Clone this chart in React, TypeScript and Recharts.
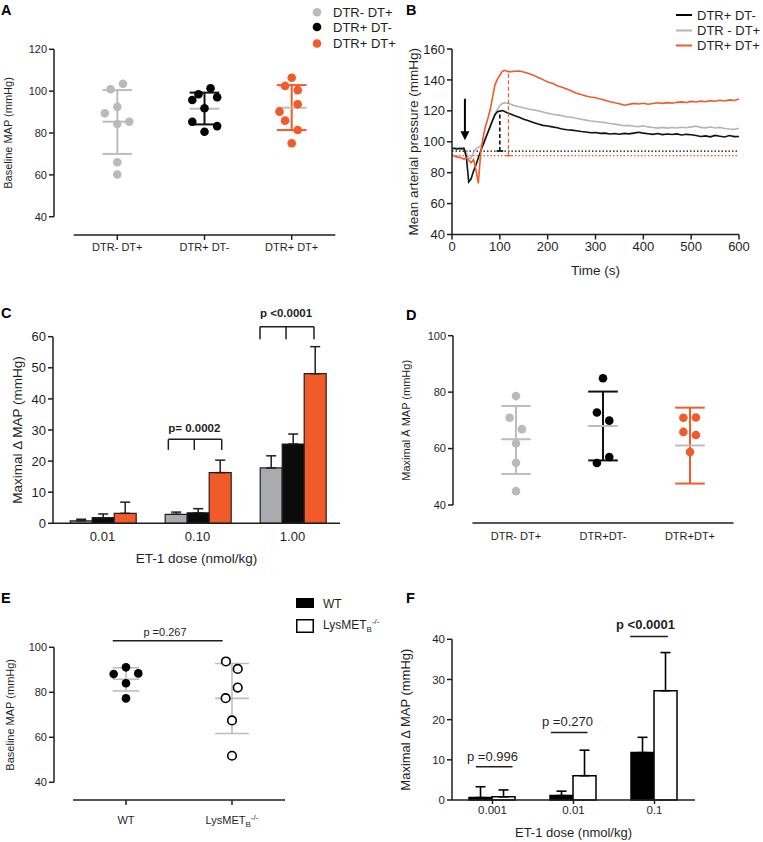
import React from "react";
import {
  ScatterChart,
  Scatter,
  LineChart,
  Line,
  BarChart,
  Bar,
  ErrorBar,
  XAxis,
  YAxis,
  ReferenceLine,
  ReferenceDot,
} from "recharts";

const FONT = "'Liberation Sans', Arial, Helvetica, sans-serif";
const INK = "#1f1f1f";
const ORANGE = "#f15a29";
const GREY_DOT = "#b8babc";
const GREY_LINE = "#bdbdbd";
const GREY_BAR = "#a9abae";
const OUTLINE = "#231f20";

// ---------- A: baseline MAP, DT model
const aGroups = ["DTR- DT+", "DTR+ DT-", "DTR+ DT+"];
const aTicks = [40, 60, 80, 100, 120];
const aGrey = [103.5, 100.9, 92.5, 89.4, 85.4, 84.3, 66, 60.2];
const aGreyJit = [0.065, -0.077, 0, -0.143, 0.137, 0, 0, 0];
const aGreyStats = [85.4, 70, 100.5]; // mean, lower SD, upper SD
const aBlack = [101.4, 98.5, 95.8, 97.1, 91.8, 85.4, 83.3, 80.6];
const aBlackJit = [0.069, -0.069, -0.14, 0.145, 0, -0.14, 0.145, 0];
const aBlackStats = [91.6, 84.1, 99.3];
const aOrange = [106.4, 102.5, 100.5, 93.7, 90.2, 85.9, 81.4, 75.1];
const aOrangeJit = [0, -0.076, 0.069, 0.069, -0.14, -0.076, 0.069, 0];
const aOrangeStats = [92.1, 81.4, 102.9];

// ---------- B: MAP trace after ET-1
const bYTicks = [40, 60, 80, 100, 120, 140, 160];
const bXTicks = [0, 100, 200, 300, 400, 500, 600];
const bTime = [
  0, 5, 10, 15, 20, 25, 30, 35, 40, 45, 50, 55, 60, 65, 70, 75, 80, 85, 90, 95, 100, 105, 110, 115, 120,
  130, 140, 150, 160, 170, 180, 190, 200, 210, 220, 230, 240, 250, 260, 270, 280, 290, 300,
  310, 320, 330, 340, 350, 360, 370, 380, 390, 400, 410, 420, 430, 440, 450, 460, 470, 480,
  490, 500, 510, 520, 530, 540, 550, 560, 570, 580, 590, 600,
];
const bBlack = [
  95.5, 95.8, 95.2, 95.6, 95.4, 95.7, 90, 74, 76, 81, 85, 89.5, 94, 98, 102, 106, 110, 114, 117.5, 119.5, 119.8, 120.2, 119.6, 118.8, 118.2,
  117, 115.8, 114.5, 113.6, 112.4, 111.5, 110.6, 110.2, 109.6, 109.1, 108.2, 107.8, 107.5, 107.1, 106.6, 106.3, 105.8, 106,
  105.4, 105.6, 105.0, 105.3, 104.9, 105.4, 105.1, 105.6, 106.1, 105.6, 105.2, 104.8, 105.3, 104.6, 105.0, 104.7, 105.1, 104.4,
  104.8, 104.5, 104.0, 103.4, 103.8, 103.2, 104.1, 103.6, 103.1, 104.0, 103.3, 103.4,
];
const bGrey = [
  96, 95.8, 96.2, 95.9, 96.3, 96, 93, 89, 89.5, 93, 95.5, 96.5, 97, 99, 103, 106, 110, 114, 118, 121, 123.5, 124.8, 125.2, 124.9, 124.6,
  123.5, 122.6, 122, 121.2, 120.6, 120, 119.3, 118.5, 117.8, 117.4, 116.8, 116.1, 115.8, 115.2, 114.6, 114, 113.4, 113.1,
  112.8, 112.4, 111.8, 111.4, 110.9, 110.4, 110.6, 110, 109.8, 110.3, 109.6, 109.2, 108.8, 109.3, 108.8, 109.2, 108.9, 109.4,
  109.1, 109.6, 110.1, 109.3, 109.0, 109.5, 108.9, 109.3, 108.6, 108.2, 108.0, 108.7,
];
const bOrange = [
  91.5, 90.8, 90.2, 89.9, 89.5, 88.8, 89.5, 88, 86.5, 88.5, 82, 73, 93, 103, 110, 115, 121, 129, 137, 140.5, 143, 145.5, 146.2, 145.6, 145.2,
  145.6, 145.8, 145.1, 144.2, 143.1, 141.6, 140.2, 138.6, 137.8, 136.2, 135.3, 134.1, 132.8, 131.4, 130.5, 129.6, 129.0, 128.5,
  127.6, 126.8, 125.9, 125.2, 124.6, 123.6, 124.2, 124.8, 124.4, 124.9, 124.3, 124.7, 125.2, 124.8, 125.3, 124.9, 125.5, 125.8,
  125.4, 126.1, 125.7, 126.3, 125.9, 126.6, 126.2, 126.8, 126.4, 127.1, 126.7, 127.6,
];
const bData = bTime.map((t, i) => ({ t, black: bBlack[i], grey: bGrey[i], orange: bOrange[i] }));

// ---------- C: dose response, DT model
const cDoses = ["0.01", "0.10", "1.00"];
const cTicks = [0, 10, 20, 30, 40, 50, 60];
const cGrey = [0.8, 2.9, 17.8];
const cGreyErr = [0.5, 0.7, 3.9];
const cBlack = [1.8, 3.4, 25.5];
const cBlackErr = [1.2, 1.3, 3.2];
const cOrange = [3.2, 16.3, 48.1];
const cOrangeErr = [3.6, 4.0, 8.7];
// each dose sits in the middle of its own unit slot on a numeric axis
const cData = cDoses.map((dose, i) => ({
  pos: i + 0.5,
  dose,
  grey: cGrey[i],
  greyErr: [0, cGreyErr[i]],
  black: cBlack[i],
  blackErr: [0, cBlackErr[i]],
  orange: cOrange[i],
  orangeErr: [0, cOrangeErr[i]],
}));

// ---------- D: maximal change
const dGroups = ["DTR- DT+", "DTR+DT-", "DTR+DT+"];
const dTicks = [40, 60, 80, 100];
const dGrey = [78.6, 70.9, 66.9, 61.8, 55, 44.9];
const dGreyJit = [0, -0.073, 0.068, 0, 0, 0];
const dGreyStats = [63.3, 51, 75.1];
const dBlack = [84.9, 72.8, 69.9, 57, 54.9];
const dBlackJit = [0, -0.07, 0.072, 0.072, -0.07];
const dBlackStats = [68, 55.8, 80.2];
const dOrange = [70.9, 71, 65.9, 64.8, 58.8];
const dOrangeJit = [-0.076, 0.068, -0.076, 0.068, 0];
const dOrangeStats = [61.1, 47.6, 74.5];

// ---------- E: baseline MAP, LysMET
const eTicks = [40, 60, 80, 100];
const eWt = [91.1, 88.1, 88.4, 84, 77.3];
const eWtJit = [0, -0.116, 0.116, 0, 0];
const eWtStats = [85.8, 80.6, 90.9];
const eLys = [93.7, 90.4, 82.1, 77.4, 67.5, 51.8];
const eLysJit = [-0.057, 0.054, 0.054, -0.06, 0, 0];
const eLysStats = [77.3, 61.7, 92.8];

// ---------- F: dose response, LysMET
const fDoses = ["0.001", "0.01", "0.1"];
const fTicks = [0, 10, 20, 30, 40];
const fWt = [0.6, 1.1, 11.8];
const fWtErr = [2.7, 1.1, 3.8];
const fLys = [0.8, 6.05, 27.2];
const fLysErr = [1.7, 6.35, 9.5];
const fData = fDoses.map((dose, i) => ({
  pos: i + 0.5,
  dose,
  wt: fWt[i],
  wtErr: [0, fWtErr[i]],
  lys: fLys[i],
  lysErr: [0, fLysErr[i]],
}));

const slotTicks = [0.5, 1.5, 2.5];

// straight annotation segment in data units
function seg(key: string, x1: number, y1: number, x2: number, y2: number, stroke: string, w: number, extra: any = {}) {
  return (
    <ReferenceLine
      key={key}
      segment={[{ x: x1, y: y1 }, { x: x2, y: y2 }]}
      stroke={stroke}
      strokeWidth={w}
      ifOverflow="visible"
      {...extra}
    />
  );
}

function note(key: string, x: number, y: number, text: string, size: number, bold: boolean) {
  return (
    <ReferenceDot
      key={key}
      x={x}
      y={y}
      r={0}
      ifOverflow="visible"
      shape={(p: any) => (
        <text
          x={p.cx}
          y={p.cy}
          textAnchor="middle"
          dominantBaseline="central"
          fontSize={size}
          fontWeight={bold ? 700 : 400}
          fill={INK}
        >
          {text}
        </text>
      )}
    />
  );
}

const dotShape = (fill: string, stroke?: string) => (p: any) =>
  <circle cx={p.cx} cy={p.cy} r={4.3} fill={fill} stroke={stroke || "none"} strokeWidth={1.6} />;

interface DotGroup {
  vals: number[];
  jit: number[];
  stats: number[];
  fill: string;
  stroke?: string;
  bar: string;
  half: number;
}

interface DotPanelProps {
  left: number;
  top: number;
  width: number;
  height: number;
  margin: { top: number; right: number; bottom: number; left: number };
  yAxisWidth: number;
  yDomain: number[];
  yTicks: number[];
  xDomain: number[];
  groups: DotGroup[];
  axisBase: number;
  axisSpan: number[];
  tickDrop?: number;
  labels: React.ReactNode[];
  labelY: number;
  yLabel: string;
  barWidth: number;
  extra?: React.ReactNode[];
}

function DotPanel(props: DotPanelProps) {
  const { left, top, width, height, margin, groups, labels, labelY } = props;
  const refs: React.ReactNode[] = [];
  groups.forEach((g, gi) => {
    const [mean, lo, hi] = g.stats;
    refs.push(seg(`v${gi}`, gi, lo, gi, hi, g.bar, props.barWidth));
    refs.push(seg(`l${gi}`, gi - g.half, lo, gi + g.half, lo, g.bar, props.barWidth));
    refs.push(seg(`h${gi}`, gi - g.half, hi, gi + g.half, hi, g.bar, props.barWidth));
    refs.push(seg(`m${gi}`, gi - g.half, mean, gi + g.half, mean, GREY_LINE, props.barWidth));
    if (props.tickDrop !== undefined) {
      refs.push(seg(`t${gi}`, gi, props.axisBase, gi, props.tickDrop, INK, 1.5));
    }
  });
  refs.push(seg("xaxis", props.axisSpan[0], props.axisBase, props.axisSpan[1], props.axisBase, INK, 1.5));

  return (
    <div style={{ position: "absolute", left, top, width, height }}>
      <ScatterChart width={width} height={height} margin={margin}>
        <XAxis
          type="number"
          dataKey="x"
          domain={props.xDomain}
          ticks={groups.map((_, i) => i)}
          allowDataOverflow
          axisLine={false}
          tickLine={false}
          height={40}
          interval={0}
          tick={(p: any) => (
            <text x={p.x} y={labelY} textAnchor="middle" fontSize={11} fill={INK}>
              {labels[p.payload.value]}
            </text>
          )}
        />
        <YAxis
          type="number"
          dataKey="y"
          domain={props.yDomain}
          ticks={props.yTicks}
          allowDataOverflow
          width={props.yAxisWidth}
          tickSize={5}
          axisLine={{ stroke: INK, strokeWidth: 1.5 }}
          tickLine={{ stroke: INK, strokeWidth: 1.5 }}
          tick={{ fontSize: 11, fill: INK }}
          label={{ value: props.yLabel, angle: -90, position: "center", fontSize: 11, fill: INK }}
        />
        {refs}
        {props.extra}
        {groups.map((g, gi) => (
          <Scatter
            key={gi}
            data={g.vals.map((v, k) => ({ x: gi + g.jit[k], y: v }))}
            shape={dotShape(g.fill, g.stroke)}
            isAnimationActive={false}
          />
        ))}
      </ScatterChart>
    </div>
  );
}

function PanelB() {
  return (
    <div style={{ position: "absolute", left: 380, top: 0, width: 383, height: 280 }}>
      <LineChart width={383} height={280} data={bData} margin={{ top: 49, right: 24, bottom: -25.5, left: -6 }}>
        <XAxis
          dataKey="t"
          type="number"
          domain={[0, 600]}
          ticks={bXTicks}
          height={71}
          tickSize={5}
          axisLine={{ stroke: INK, strokeWidth: 1.5 }}
          tickLine={{ stroke: INK, strokeWidth: 1.5 }}
          tick={{ fontSize: 13, fill: INK }}
          label={{ value: "Time (s)", position: "center", fontSize: 13.5, fill: INK }}
        />
        <YAxis
          type="number"
          domain={[40, 160]}
          ticks={bYTicks}
          width={78}
          tickSize={5}
          axisLine={{ stroke: INK, strokeWidth: 1.5 }}
          tickLine={{ stroke: INK, strokeWidth: 1.5 }}
          tick={{ fontSize: 13, fill: INK }}
          label={{ value: "Mean arterial pressure (mmHg)", angle: -90, position: "center", fontSize: 13.5, fill: INK }}
        />
        {seg("dotK", 0, 94, 600, 94, "#000", 1.2, { strokeDasharray: "1.5 2" })}
        {seg("dotO", 0, 91, 600, 91, ORANGE, 1.2, { strokeDasharray: "1.5 2" })}
        <Line dataKey="grey" stroke="#b5b5b5" strokeWidth={1.6} dot={false} isAnimationActive={false} />
        <Line dataKey="black" stroke="#111" strokeWidth={1.6} dot={false} isAnimationActive={false} />
        <Line dataKey="orange" stroke={ORANGE} strokeWidth={1.6} dot={false} isAnimationActive={false} />
        {seg("vK", 100, 94, 100, 120, "#111", 1.6, { strokeDasharray: "4 2.5" })}
        {seg("cK", 93, 94, 107, 94, "#111", 1.6)}
        {seg("vO", 118, 91, 118, 146, ORANGE, 1.2, { strokeDasharray: "4 2.5" })}
        {seg("cO", 111, 91, 125, 91, ORANGE, 1.2)}
        {seg("arrow", 27, 127.8, 27, 106, "#000", 2)}
        <ReferenceDot
          x={27}
          y={101}
          r={0}
          ifOverflow="visible"
          shape={(p: any) => (
            <polygon
              points={`${p.cx - 4.5},${p.cy - 9} ${p.cx + 4.5},${p.cy - 9} ${p.cx},${p.cy}`}
              fill="#000"
            />
          )}
        />
      </LineChart>
    </div>
  );
}

function PanelC() {
  return (
    <div style={{ position: "absolute", left: 0, top: 280, width: 380, height: 290 }}>
      <BarChart
        width={380}
        height={290}
        data={cData}
        margin={{ top: 56.7, right: 40, bottom: -23.3, left: -19 }}
        barCategoryGap="16%"
        barGap={0}
      >
        <XAxis
          dataKey="pos"
          type="number"
          domain={[0, 3]}
          allowDataOverflow
          ticks={slotTicks}
          interval={0}
          tickFormatter={(v: number) => cDoses[Math.floor(v)]}
          padding={{ left: 2, right: 0 }}
          height={70}
          tickLine={false}
          axisLine={{ stroke: INK, strokeWidth: 1.5 }}
          tick={{ fontSize: 13, fill: INK }}
          label={{ value: "ET-1 dose (nmol/kg)", position: "center", fontSize: 13.5, fill: INK }}
        />
        <YAxis
          domain={[0, 60]}
          ticks={cTicks}
          width={72}
          tickSize={5}
          axisLine={{ stroke: INK, strokeWidth: 1.5 }}
          tickLine={{ stroke: INK, strokeWidth: 1.5 }}
          tick={{ fontSize: 13, fill: INK }}
          label={{ value: "Maximal \u0394 MAP (mmHg)", angle: -90, position: "center", fontSize: 13.5, fill: INK }}
        />
        <Bar dataKey="grey" fill={GREY_BAR} stroke={OUTLINE} strokeWidth={1.2} isAnimationActive={false}>
          <ErrorBar dataKey="greyErr" direction="y" width={5} stroke={INK} strokeWidth={1.5} />
        </Bar>
        <Bar dataKey="black" fill="#0b0b0b" stroke={OUTLINE} strokeWidth={1.2} isAnimationActive={false}>
          <ErrorBar dataKey="blackErr" direction="y" width={5} stroke={INK} strokeWidth={1.5} />
        </Bar>
        <Bar dataKey="orange" fill={ORANGE} stroke={OUTLINE} strokeWidth={1.2} isAnimationActive={false}>
          <ErrorBar dataKey="orangeErr" direction="y" width={5} stroke={INK} strokeWidth={1.5} />
        </Bar>
        {seg("b1t", 1.193, 27, 1.755, 27, INK, 1.5)}
        {seg("b1l", 1.193, 27, 1.193, 23.6, INK, 1.5)}
        {seg("b1m", 1.466, 27, 1.466, 23.6, INK, 1.5)}
        {seg("b1r", 1.755, 27, 1.755, 23.6, INK, 1.5)}
        {seg("b2t", 2.158, 63.2, 2.726, 63.2, INK, 1.5)}
        {seg("b2l", 2.158, 63.2, 2.158, 59.2, INK, 1.5)}
        {seg("b2m", 2.432, 63.2, 2.432, 59.2, INK, 1.5)}
        {seg("b2r", 2.726, 63.2, 2.726, 59.2, INK, 1.5)}
        {note("p1", 1.466, 30.6, "p= 0.0002", 11.5, true)}
        {note("p2", 2.432, 67.6, "p <0.0001", 11.5, true)}
      </BarChart>
    </div>
  );
}

function PanelF() {
  return (
    <div style={{ position: "absolute", left: 380, top: 570, width: 383, height: 272 }}>
      <BarChart
        width={383}
        height={272}
        data={fData}
        margin={{ top: 69.3, right: 68, bottom: -22, left: -22 }}
        barCategoryGap="21%"
        barGap={0}
      >
        <XAxis
          dataKey="pos"
          type="number"
          domain={[0, 3]}
          allowDataOverflow
          ticks={slotTicks}
          interval={0}
          tickFormatter={(v: number) => fDoses[Math.floor(v)]}
          height={64}
          tickSize={4}
          axisLine={{ stroke: INK, strokeWidth: 1.5 }}
          tickLine={{ stroke: INK, strokeWidth: 1.5 }}
          tick={{ fontSize: 11.5, fill: INK }}
          label={{ value: "ET-1 dose (nmol/kg)", position: "center", fontSize: 13, fill: INK }}
        />
        <YAxis
          domain={[0, 40]}
          ticks={fTicks}
          width={94}
          tickSize={5}
          axisLine={{ stroke: INK, strokeWidth: 1.5 }}
          tickLine={{ stroke: INK, strokeWidth: 1.5 }}
          tick={{ fontSize: 11.5, fill: INK }}
          label={{ value: "Maximal \u0394 MAP (mmHg)", angle: -90, position: "center", fontSize: 13, fill: INK }}
        />
        <Bar dataKey="wt" fill="#000" stroke="#000" strokeWidth={1.5} isAnimationActive={false}>
          <ErrorBar dataKey="wtErr" direction="y" width={5} stroke="#000" strokeWidth={1.6} />
        </Bar>
        <Bar dataKey="lys" fill="#fff" stroke="#000" strokeWidth={1.5} isAnimationActive={false}>
          <ErrorBar dataKey="lysErr" direction="y" width={5} stroke="#000" strokeWidth={1.6} />
        </Bar>
        {seg("f1", 0.295, 8.3, 0.747, 8.3, INK, 1.5)}
        {seg("f2", 1.221, 16.8, 1.673, 16.8, INK, 1.5)}
        {seg("f3", 2.2, 40.7, 2.665, 40.7, INK, 1.5)}
        {note("q1", 0.5, 10.8, "p =0.996", 13, false)}
        {note("q2", 1.426, 19.5, "p =0.270", 13, false)}
        {note("q3", 2.389, 43.7, "p <0.0001", 13, true)}
      </BarChart>
    </div>
  );
}

const lysLabel = (
  <>
    LysMET
    <tspan fontSize={8} dy={3}>B</tspan>
    <tspan fontSize={8} dy={-7}>-/-</tspan>
  </>
);

export default function App() {
  return (
    <div
      style={{
        position: "absolute",
        left: 0,
        top: 0,
        width: 763,
        height: 842,
        background: "#fff",
        fontFamily: FONT,
        color: INK,
      }}
    >
      <DotPanel
        left={0}
        top={0}
        width={380}
        height={280}
        margin={{ top: 49.3, right: 44.7, bottom: 23.3, left: -38 }}
        yAxisWidth={92}
        yDomain={[40, 120]}
        yTicks={aTicks}
        xDomain={[-0.726, 2.5]}
        groups={[
          { vals: aGrey, jit: aGreyJit, stats: aGreyStats, fill: GREY_DOT, bar: GREY_LINE, half: 0.17 },
          { vals: aBlack, jit: aBlackJit, stats: aBlackStats, fill: "#000", bar: "#111", half: 0.17 },
          { vals: aOrange, jit: aOrangeJit, stats: aOrangeStats, fill: ORANGE, bar: ORANGE, half: 0.17 },
        ]}
        axisBase={31.27}
        axisSpan={[-0.5, 2.5]}
        tickDrop={28.9}
        labels={aGroups}
        labelY={251}
        yLabel="Baseline MAP (mmHg)"
        barWidth={2}
      />
      <PanelB />
      <PanelC />
      <DotPanel
        left={380}
        top={280}
        width={383}
        height={290}
        margin={{ top: 55.7, right: 29.5, bottom: 25, left: -20 }}
        yAxisWidth={93}
        yDomain={[40, 100]}
        yTicks={dTicks}
        xDomain={[-0.724, 2.5]}
        groups={[
          { vals: dGrey, jit: dGreyJit, stats: dGreyStats, fill: GREY_DOT, bar: GREY_LINE, half: 0.17 },
          { vals: dBlack, jit: dBlackJit, stats: dBlackStats, fill: "#000", bar: "#111", half: 0.17 },
          { vals: dOrange, jit: dOrangeJit, stats: dOrangeStats, fill: ORANGE, bar: ORANGE, half: 0.17 },
        ]}
        axisBase={33.6}
        axisSpan={[-0.5, 2.5]}
        labels={dGroups}
        labelY={260}
        yLabel={"Maximal \u00c4 MAP (mmHg)"}
        barWidth={2}
      />
      <DotPanel
        left={0}
        top={570}
        width={380}
        height={272}
        margin={{ top: 77.3, right: 84.4, bottom: 19.7, left: -34 }}
        yAxisWidth={88}
        yDomain={[40, 100]}
        yTicks={eTicks}
        xDomain={[-0.679, 1.6]}
        groups={[
          { vals: eWt, jit: eWtJit, stats: eWtStats, fill: "#000", bar: GREY_LINE, half: 0.125 },
          { vals: eLys, jit: eLysJit, stats: eLysStats, fill: "#fff", stroke: "#000", bar: GREY_LINE, half: 0.16 },
        ]}
        axisBase={32.1}
        axisSpan={[-0.5, 1.5]}
        tickDrop={29.9}
        labels={["WT", lysLabel]}
        labelY={254}
        yLabel="Baseline MAP (mmHg)"
        barWidth={1.6}
        extra={[
          seg("pE", -0.125, 102.9, 0.912, 102.9, INK, 1.4),
          note("pEt", 0.368, 107, "p =0.267", 11, false),
        ]}
      />
      <PanelF />

      {/* panel letters and legends */}
      <svg width={763} height={842} style={{ position: "absolute", left: 0, top: 0, pointerEvents: "none" }}>
        <g fontWeight={700} fontSize={14.5} fill="#000">
          <text x={1} y={15}>A</text>
          <text x={406} y={15}>B</text>
          <text x={1} y={318}>C</text>
          <text x={406} y={320}>D</text>
          <text x={1} y={603}>E</text>
          <text x={406} y={603}>F</text>
        </g>
        <g fontSize={13} fill={INK}>
          <circle cx={317} cy={12.3} r={4.3} fill={GREY_DOT} />
          <circle cx={317} cy={27} r={4.3} fill="#000" />
          <circle cx={317} cy={43.5} r={4.3} fill={ORANGE} />
          <text x={333} y={16.8}>DTR- DT+</text>
          <text x={333} y={31.5}>DTR+ DT-</text>
          <text x={333} y={48}>DTR+ DT+</text>

          <line x1={676} x2={692} y1={15} y2={15} stroke="#000" strokeWidth={2} />
          <line x1={676} x2={692} y1={30.5} y2={30.5} stroke="#b5b5b5" strokeWidth={2} />
          <line x1={676} x2={692} y1={45.5} y2={45.5} stroke={ORANGE} strokeWidth={2} />
          <text x={697} y={19.5}>DTR+ DT-</text>
          <text x={697} y={35}>DTR - DT+</text>
          <text x={697} y={50}>DTR+ DT+</text>
        </g>
        <g fontSize={12} fill={INK}>
          <rect x={296} y={598} width={18} height={10} fill="#000" />
          <rect x={296.75} y={619.75} width={16.5} height={12.5} fill="#fff" stroke="#000" strokeWidth={1.5} />
          <text x={323} y={607.5}>WT</text>
          <text x={323} y={628.5}>
            LysMET
            <tspan fontSize={8} dy={3}>B</tspan>
            <tspan fontSize={8} dy={-8}>-/-</tspan>
          </text>
        </g>
      </svg>
    </div>
  );
}
